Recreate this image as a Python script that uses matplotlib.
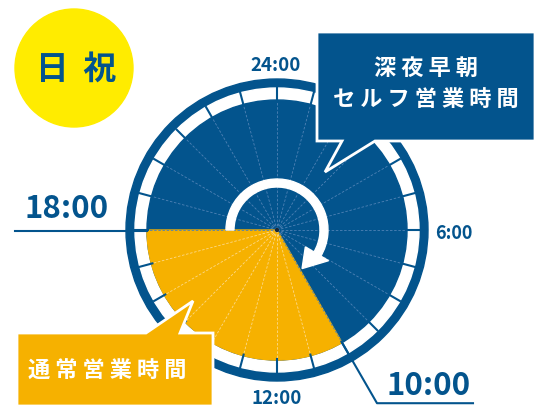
import numpy as np
import matplotlib
matplotlib.use("Agg")
import matplotlib.pyplot as plt
from matplotlib.patches import Circle, Wedge, Polygon

# --- data ---
hours = list(range(24))
open_hour = 10      # 通常営業 start
close_hour = 18     # 通常営業 end
hour_labels = ["24:00", "6:00", "12:00", "18:00"]
label_hours = [0, 6, 12, 18]
day_label = "日  祝"
self_label = ["深 夜 早 朝", "セ ル フ 営 業 時 間"]
normal_label = "通 常 営 業 時 間"

BLUE = "#03548d"
YELLOW = "#f6b100"
BRIGHT = "#ffec00"
JP = ["Noto Sans CJK JP", "DejaVu Sans"]

cx, cy = 277, 231
r_out, r_band, r_in = 151, 142, 130


def clock(h):
    # clock angle (deg, clockwise from top) -> data angle for y-down axes
    return h * 15 - 90


def pt(h, r):
    a = np.radians(h * 15)
    return cx + r * np.sin(a), cy - r * np.cos(a)


fig = plt.figure(figsize=(5.46, 4.14), dpi=100)
ax = fig.add_axes([0, 0, 1, 1])
ax.set_xlim(0, 546)
ax.set_ylim(414, 0)
ax.set_aspect("equal")
ax.axis("off")

# clock face
ax.add_patch(Circle((cx, cy), r_out, color=BLUE, zorder=1))
ax.add_patch(Circle((cx, cy), r_band, color="white", zorder=2))
ax.add_patch(Circle((cx, cy), r_in, color=BLUE, zorder=3))
ax.add_patch(Wedge((cx, cy), r_in, clock(open_hour), clock(close_hour),
                   color=YELLOW, zorder=4))

# spokes + ticks
for h in hours:
    x1, y1 = pt(h, r_in)
    inside = open_hour < h < close_hour
    ax.plot([cx, x1], [cy, y1], color="#fcd98a" if inside else "#4f82b5",
            lw=0.6, ls=(0, (3, 2)), zorder=5)
    x0, y0 = pt(h, r_in - 1)
    x2, y2 = pt(h, r_band)
    ax.plot([x0, x2], [y0, y2], color=BLUE, lw=1.5, zorder=5)

# hub arrow
ax.add_patch(Wedge((cx, cy), 51, clock(close_hour), clock(24 + 8.1),
                   width=8, color="white", zorder=6))
ax.add_patch(Polygon([pt(8.05, 33), pt(8.05, 60), pt(9.8, 46)],
                     closed=True, color="white", zorder=6))
ax.add_patch(Circle((cx, cy), 1.5, color="#1a2a3a", zorder=7))

# hour labels
ax.text(276, 71, hour_labels[0], ha="center", va="baseline", fontsize=13.5,
        fontweight="bold", color=BLUE, family=JP)
ax.text(435, 239, hour_labels[1], ha="left", va="baseline", fontsize=13,
        fontweight="bold", color=BLUE, family=JP)
ax.text(277, 404, hour_labels[2], ha="center", va="baseline", fontsize=13.5,
        fontweight="bold", color=BLUE, family=JP)

# 18:00 leader
ax.plot([15, cx - r_in], [cy + 1, cy + 1], color=BLUE, lw=1.5, zorder=5)
ax.text(24, 218, hour_labels[3], ha="left", va="baseline", fontsize=22.5,
        color=BLUE, family=JP, fontweight="bold")

# 10:00 leader
lx, ly = pt(open_hour, 200)
x0, y0 = pt(open_hour, r_in)
ax.plot([x0, lx, 473], [y0, ly, ly], color=BLUE, lw=1.5, zorder=5)
ax.text(386, 395, f"{open_hour}:00", ha="left", va="baseline", fontsize=22.5,
        color=BLUE, family=JP, fontweight="bold")

# blue callout
ax.add_patch(Polygon([(317, 33), (535, 33), (535, 142), (375, 142),
                      (325, 173), (342, 142), (317, 142)], closed=True,
                     facecolor=BLUE, edgecolor="white", lw=2, zorder=8))
ax.text(426, 68, self_label[0], ha="center", va="center", fontsize=16,
        color="white", family=JP, fontweight="bold", zorder=9)
ax.text(426, 99, self_label[1], ha="center", va="center", fontsize=16,
        color="white", family=JP, fontweight="bold", zorder=9)

# yellow callout
ax.add_patch(Polygon([(17, 334), (146, 334), (193, 302), (180, 334),
                      (213, 334), (213, 407), (17, 407)], closed=True,
                     facecolor=YELLOW, edgecolor="white", lw=2, zorder=8))
ax.text(107, 371, normal_label, ha="center", va="center", fontsize=16,
        color="white", family=JP, fontweight="bold", zorder=9)

# day badge
ax.add_patch(Circle((74, 69), 59, color=BRIGHT, zorder=8))
ax.text(76, 69, day_label, ha="center", va="center", fontsize=23.5,
        color=BLUE, family=JP, fontweight="bold", zorder=9)

fig.savefig("out.png", dpi=100)
